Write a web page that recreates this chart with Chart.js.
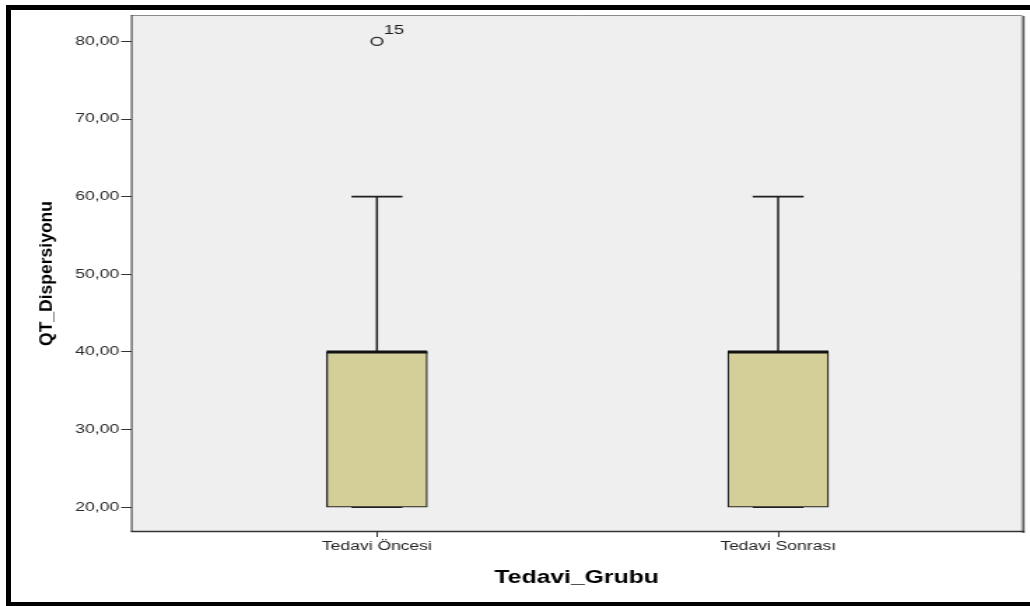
<!DOCTYPE html>
<html>
<head>
<meta charset="utf-8">
<title>QT_Dispersiyonu</title>
<script src="https://cdn.jsdelivr.net/npm/chart.js@4.4.1/dist/chart.umd.min.js"></script>
<style>
  html, body { margin: 0; padding: 0; background: #fff; overflow: hidden; }
  #frame {
    position: absolute; left: 6px; top: 5px; width: 1040px; height: 592px;
    border-top: 5px solid #000; border-left: 5px solid #000; border-bottom: 5px solid #000;
  }
  #chart { position: absolute; left: 0; top: 0; }
</style>
</head>
<body>
<div id="frame"></div>
<!-- drawn narrow and widened by css, like the exported spss figure -->
<canvas id="chart" width="736" height="606" style="width:1030px;height:606px"></canvas>
<script>
// Boxplot summary per group
var groups = ['Tedavi Öncesi', 'Tedavi Sonrası'];
var whiskerLow = [20, 20];
var q1 = [20, 20];
var medians = [40, 40];
var q3 = [40, 40];
var whiskerHigh = [60, 60];

// Outliers: group index, value, case number
var outlierGroup = [0];
var outlierValue = [80];
var outlierCase = ['15'];

var yTicks = [20, 30, 40, 50, 60, 70, 80];

var FONT = 'Liberation Sans, Arial, sans-serif';
Chart.defaults.font.family = FONT;

var boxParts = {
  id: 'boxParts',
  beforeDraw: function(chart) {
    var c = chart.ctx, a = chart.chartArea;
    c.save();
    c.fillStyle = '#efefef';
    c.fillRect(a.left, a.top, a.right - a.left, a.bottom - a.top);
    c.restore();
  },
  beforeDatasetsDraw: function(chart) {
    var c = chart.ctx, xs = chart.scales.x, ys = chart.scales.y;
    c.save();
    c.strokeStyle = '#1e1e1e';
    groups.forEach(function(g, i) {
      var x = xs.getPixelForValue(i + 1);
      // whiskers
      c.lineWidth = 1.5;
      c.beginPath();
      c.moveTo(x, ys.getPixelForValue(q3[i]));
      c.lineTo(x, ys.getPixelForValue(whiskerHigh[i]));
      c.moveTo(x, ys.getPixelForValue(q1[i]));
      c.lineTo(x, ys.getPixelForValue(whiskerLow[i]));
      c.stroke();
      // caps
      c.lineWidth = 1.6;
      c.beginPath();
      [whiskerHigh[i], whiskerLow[i]].forEach(function(v) {
        var y = ys.getPixelForValue(v);
        c.moveTo(x - 18.2, y);
        c.lineTo(x + 18.2, y);
      });
      c.stroke();
    });
    c.restore();
  },
  afterDatasetsDraw: function(chart) {
    var c = chart.ctx, a = chart.chartArea, xs = chart.scales.x, ys = chart.scales.y;
    c.save();
    // medians
    c.strokeStyle = '#111';
    c.lineWidth = 3;
    groups.forEach(function(g, i) {
      var x = xs.getPixelForValue(i + 1), y = ys.getPixelForValue(medians[i]);
      c.beginPath();
      c.moveTo(x - 36, y);
      c.lineTo(x + 36, y);
      c.stroke();
    });
    // case labels next to outliers
    var pts = chart.getDatasetMeta(1).data;
    c.fillStyle = '#1a1a1a';
    c.font = '13px ' + FONT;
    c.textAlign = 'left';
    c.textBaseline = 'alphabetic';
    pts.forEach(function(p, i) {
      c.fillText(outlierCase[i], p.x + 5, p.y - 7.5);
    });
    // plot frame
    c.lineWidth = 1;
    c.strokeStyle = '#8c8c8c';
    c.beginPath();
    c.moveTo(a.left, a.top + 0.5);
    c.lineTo(a.right, a.top + 0.5);
    c.stroke();
    c.strokeStyle = '#b0b0b0';
    c.beginPath();
    c.moveTo(a.right - 0.5, a.top);
    c.lineTo(a.right - 0.5, a.bottom);
    c.stroke();
    c.strokeStyle = '#5a5a5a';
    c.lineWidth = 1.6;
    c.beginPath();
    c.moveTo(a.right + 0.8, a.top + 1);
    c.lineTo(a.right + 0.8, a.bottom + 1);
    c.stroke();
    c.strokeStyle = '#333';
    c.lineWidth = 1;
    c.beginPath();
    c.moveTo(a.left + 0.5, a.top);
    c.lineTo(a.left + 0.5, a.bottom);
    c.stroke();
    c.lineWidth = 1.5;
    c.beginPath();
    c.moveTo(a.left, a.bottom - 0.5);
    c.lineTo(a.right + 1.5, a.bottom - 0.5);
    c.stroke();
    c.restore();
  },
  afterDraw: function(chart) {
    var c = chart.ctx, a = chart.chartArea;
    c.save();
    c.fillStyle = '#000';
    c.textAlign = 'center';
    c.textBaseline = 'alphabetic';
    // y title
    c.save();
    c.translate(37, (a.top + a.bottom) / 2);
    c.rotate(-Math.PI / 2);
    c.scale(1, 0.75);
    c.font = 'bold 17.5px ' + FONT;
    c.fillText('QT_Dispersiyonu', 0, 0);
    c.restore();
    // x title
    c.save();
    c.translate((a.left + a.right) / 2, 583);
    c.scale(0.93, 1);
    c.font = 'bold 19px ' + FONT;
    c.fillText('Tedavi_Grubu', 0, 0);
    c.restore();
    c.restore();
  }
};

var ctx = document.getElementById('chart').getContext('2d');
var chart = new Chart(ctx, {
  type: 'bar',
  data: {
    datasets: [{
      type: 'bar',
      data: groups.map(function(g, i) { return { x: i + 1, y: [q1[i], q3[i]] }; }),
      backgroundColor: '#d4cf99',
      borderColor: '#262626',
      borderWidth: 1.3,
      borderSkipped: false,
      barThickness: 72,
      order: 2
    }, {
      type: 'scatter',
      data: outlierValue.map(function(v, i) { return { x: outlierGroup[i] + 1, y: v }; }),
      pointStyle: 'circle',
      pointRadius: 4,
      borderColor: '#333',
      borderWidth: 1.4,
      backgroundColor: 'rgba(0,0,0,0)',
      order: 1
    }]
  },
  options: {
    responsive: false,
    devicePixelRatio: 1,
    animation: false,
    layout: { padding: { top: 15, right: 2.5, bottom: 0, left: 0 } },
    plugins: { legend: { display: false }, tooltip: { enabled: false } },
    scales: {
      x: {
        type: 'linear',
        min: 0.387,
        max: 2.609,
        offset: false,
        afterBuildTicks: function(s) { s.ticks = groups.map(function(g, i) { return { value: i + 1 }; }); },
        afterFit: function(s) { s.height = 74; },
        grid: { drawOnChartArea: false, offset: false, tickLength: 5, color: '#333' },
        border: { display: false },
        ticks: {
          padding: 2,
          color: '#222',
          font: { size: 12.5 },
          maxRotation: 0,
          autoSkip: false,
          callback: function(v) { return groups[Math.round(v) - 1] || ''; }
        }
      },
      y: {
        min: 16.8,
        max: 83.4,
        afterBuildTicks: function(s) { s.ticks = yTicks.map(function(v) { return { value: v }; }); },
        afterFit: function(s) { s.width = 93.6; },
        grid: { drawOnChartArea: false, tickLength: 7, color: '#333' },
        border: { display: false },
        ticks: {
          padding: 1.5,
          color: '#2b2b2b',
          font: { size: 12.5 },
          callback: function(v) { return v.toFixed(2).replace('.', ','); }
        }
      }
    }
  },
  plugins: [boxParts]
});
</script>
</body>
</html>
